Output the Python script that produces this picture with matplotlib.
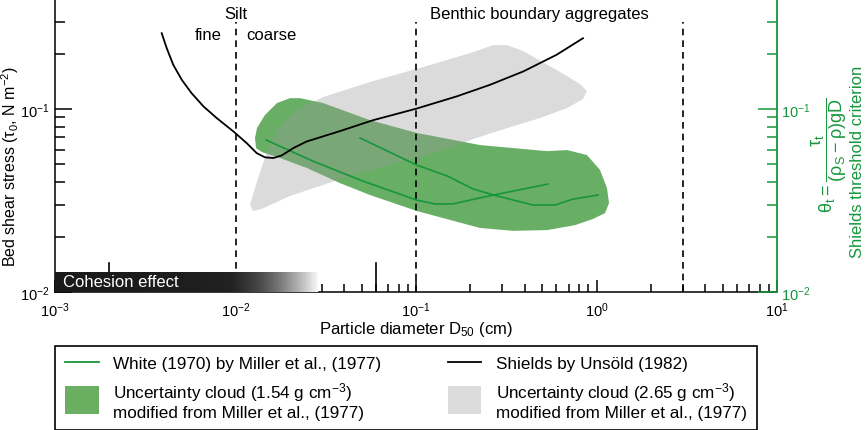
import numpy as np
import matplotlib.pyplot as plt
import matplotlib.patches as mpatches
from matplotlib.lines import Line2D
from matplotlib.colors import LinearSegmentedColormap
from matplotlib.legend_handler import HandlerPatch
from matplotlib.ticker import LogLocator, NullFormatter

plt.rcParams['font.family'] = ['Liberation Sans', 'DejaVu Sans']
plt.rcParams['mathtext.default'] = 'regular'
plt.rcParams['axes.unicode_minus'] = False

GREEN = '#16963c'

# Shields curve by Unsöld (1982): D50 (cm) vs tau (N m-2)
shields_d = [0.00390, 0.00416, 0.00452, 0.00504, 0.00571, 0.00664, 0.00787, 0.00973,
             0.01153, 0.01309, 0.01455, 0.01617, 0.01803, 0.02089, 0.02477, 0.0379,
             0.0579, 0.1005, 0.1678, 0.257, 0.393, 0.601, 0.841]
shields_tau = [0.260, 0.215, 0.1746, 0.1445, 0.1222, 0.1035, 0.0893, 0.0755,
               0.0652, 0.0575, 0.0545, 0.0540, 0.0558, 0.0612, 0.0665, 0.0758,
               0.0870, 0.1006, 0.1173, 0.1358, 0.1607, 0.1982, 0.244]

# White (1970) by Miller et al. (1977), two curves
white1_d = [0.0148, 0.0268, 0.0508, 0.101, 0.127, 0.160, 0.226, 0.344, 0.538]
white1_theta = [0.0677, 0.0520, 0.0404, 0.0318, 0.0303, 0.0303, 0.0327, 0.0356, 0.0389]
white2_d = [0.0490, 0.101, 0.149, 0.207, 0.281, 0.445, 0.589, 0.741, 1.02]
white2_theta = [0.0695, 0.0494, 0.0431, 0.0366, 0.0335, 0.0299, 0.0299, 0.0322, 0.0339]

# uncertainty cloud outlines
cloud154_d = [0.0130, 0.01282, 0.01315, 0.01455, 0.01698, 0.02004, 0.02275, 0.03055,
              0.0556, 0.1014, 0.226, 0.532, 0.687, 0.885, 1.045, 1.143, 1.173, 1.114,
              0.957, 0.760, 0.532, 0.344, 0.226, 0.1014, 0.0556, 0.0379, 0.0249,
              0.01766, 0.01403]
cloud154_y = [0.0612, 0.0695, 0.0787, 0.0928, 0.1079, 0.1148, 0.1148, 0.1079,
              0.0870, 0.0740, 0.0636, 0.0589, 0.0597, 0.0561, 0.0465, 0.0370, 0.0306,
              0.0270, 0.0251, 0.0232, 0.0218, 0.0216, 0.0224, 0.0277, 0.0339, 0.0394,
              0.0476, 0.0540, 0.0582]

cloud265_d = [0.01202, 0.0125, 0.01403, 0.02004, 0.03055, 0.0394, 0.0578, 0.1094,
              0.1486, 0.207, 0.319, 0.486, 0.687, 0.841, 0.885, 0.811, 0.604, 0.392,
              0.319, 0.267, 0.207, 0.1094, 0.0578, 0.03055, 0.02085, 0.01698, 0.01496,
              0.01334]
cloud265_y = [0.0299, 0.0277, 0.0285, 0.0335, 0.0385, 0.0420, 0.0470, 0.0553,
              0.0604, 0.0686, 0.0787, 0.0893, 0.1013, 0.1134, 0.1254, 0.1370, 0.1633,
              0.2076, 0.2239, 0.2239, 0.2046, 0.1698, 0.1423, 0.1164, 0.0963, 0.0767,
              0.0589, 0.0420]

boundaries = [0.01, 0.1, 3.0]
boundary_top = 0.3
size_ticks = [0.002, 0.06]
cohesion_x = (0.001, 0.029)
cohesion_top = 0.0130

fig = plt.figure(figsize=(8.65, 4.31), dpi=100)
ax = fig.add_axes([0.0636, 0.3202, 0.8347, 0.6775])
ax.set_xscale('log')
ax.set_yscale('log')
ax.set_xlim(1e-3, 10)
ax.set_ylim(0.01, 0.395)

ax.fill(cloud154_d, cloud154_y, color='#2f8f2a', alpha=0.72, lw=0, zorder=1)
ax.fill(cloud265_d, cloud265_y, color='#9a9a9a', alpha=0.35, lw=0, zorder=1.5)

ax.plot(white1_d, white1_theta, color=GREEN, lw=1.2, zorder=2)
ax.plot(white2_d, white2_theta, color=GREEN, lw=1.2, zorder=2)
ax.plot(shields_d, shields_tau, color='black', lw=1.3, zorder=2.2)

ax.vlines(boundaries, 0.01, boundary_top, colors='black', linestyles=(0, (4, 3)),
          lw=1.2, zorder=2.1)
for x in size_ticks:
    ax.axvline(x, ymin=0, ymax=0.1, color='black', lw=1.2, zorder=2.4)

cmap = LinearSegmentedColormap.from_list('coh', [(0, '#1a1a1a'), (0.3, '#222222'),
                                                 (0.45, '#4a4a4a'), (0.68, '#999999'),
                                                 (0.88, '#dadada'), (1, '#ffffff')])
grad = np.linspace(0, 1, 256).reshape(1, -1)
ax.imshow(grad, cmap=cmap, aspect='auto', zorder=3,
          extent=(cohesion_x[0], cohesion_x[1], 0.01, cohesion_top))
ax.text(0.00111, 0.01148, 'Cohesion effect', color='white', fontsize=12,
        va='center', ha='left', zorder=4)

ax.text(0.01, 0.335, 'Silt', fontsize=12, ha='center', va='center')
ax.text(0.00705, 0.257, 'fine', fontsize=12, ha='center', va='center')
ax.text(0.0159, 0.257, 'coarse', fontsize=12, ha='center', va='center')
ax.text(0.48, 0.335, 'Benthic boundary aggregates', fontsize=12, ha='center', va='center')

for s in ['top', 'right']:
    ax.spines[s].set_visible(False)
for s in ['left', 'bottom']:
    ax.spines[s].set_linewidth(1.1)
ax.tick_params(which='both', direction='in', width=1.1, labelsize=10.5)
ax.tick_params(axis='x', which='major', length=9, pad=6)
ax.tick_params(axis='x', which='minor', length=6)
ax.tick_params(axis='y', which='major', length=12, pad=4)
ax.tick_params(axis='y', which='minor', length=7)
ax.xaxis.set_minor_locator(LogLocator(base=10, subs=np.arange(2, 10)))
ax.xaxis.set_minor_formatter(NullFormatter())
ax.yaxis.set_minor_formatter(NullFormatter())
ax.set_xlabel('Particle diameter D$_{50}$ (cm)', fontsize=12, labelpad=0)

ax2 = ax.twinx()
ax2.set_yscale('log')
ax2.set_ylim(0.01, 0.395)
for s in ['top', 'left', 'bottom']:
    ax2.spines[s].set_visible(False)
ax2.spines['right'].set_color(GREEN)
ax2.spines['right'].set_linewidth(1.3)
ax2.tick_params(which='both', direction='in', colors=GREEN, width=1.1, labelsize=10.5)
ax2.tick_params(which='major', length=14, pad=3)
ax2.tick_params(which='minor', length=7)
ax2.yaxis.set_minor_formatter(NullFormatter())

fig.text(10 / 865, 1 - 167 / 431, 'Bed shear stress (τ$_0$, N m$^{-2}$)', rotation=90,
         fontsize=11.5, ha='center', va='center')
fig.text(829 / 865, 1 - 155 / 431, r'$\theta_t=\dfrac{\tau_t}{(\rho_S-\rho)gD}$',
         rotation=90, fontsize=13, color=GREEN, ha='center', va='center')
fig.text(857 / 865, 1 - 162 / 431, 'Shields threshold criterion', rotation=90,
         fontsize=12, color=GREEN, ha='center', va='center')


def tall_patch(legend, orig_handle, xdescent, ydescent, width, height, fontsize):
    h = 1.6 * fontsize
    return mpatches.Rectangle((-xdescent, -ydescent + height / 2 - h / 2), width, h)


handles = [Line2D([], [], color=GREEN, lw=1.3),
           mpatches.Patch(facecolor='#6aae62', edgecolor='none'),
           Line2D([], [], color='black', lw=1.3),
           mpatches.Patch(facecolor='#dcdcdc', edgecolor='none')]
labels = ['White (1970) by Miller et al., (1977)',
          'Uncertainty cloud (1.54 g cm$^{-3}$)\nmodified from Miller et al., (1977)',
          'Shields by Unsöld (1982)',
          'Uncertainty cloud (2.65 g cm$^{-3}$)\nmodified from Miller et al., (1977)']
leg = fig.legend(handles, labels, ncol=2, loc='upper left',
                 bbox_to_anchor=(55 / 865, 1 - 347 / 431), borderaxespad=0,
                 fontsize=12.3, handlelength=1.95, handletextpad=0.85,
                 columnspacing=3.9, labelspacing=0.5, borderpad=0.6,
                 fancybox=False, framealpha=1, edgecolor='black',
                 handler_map={mpatches.Patch: HandlerPatch(patch_func=tall_patch)})
leg.get_frame().set_linewidth(1.2)

fig.savefig('out.png', dpi=100)
